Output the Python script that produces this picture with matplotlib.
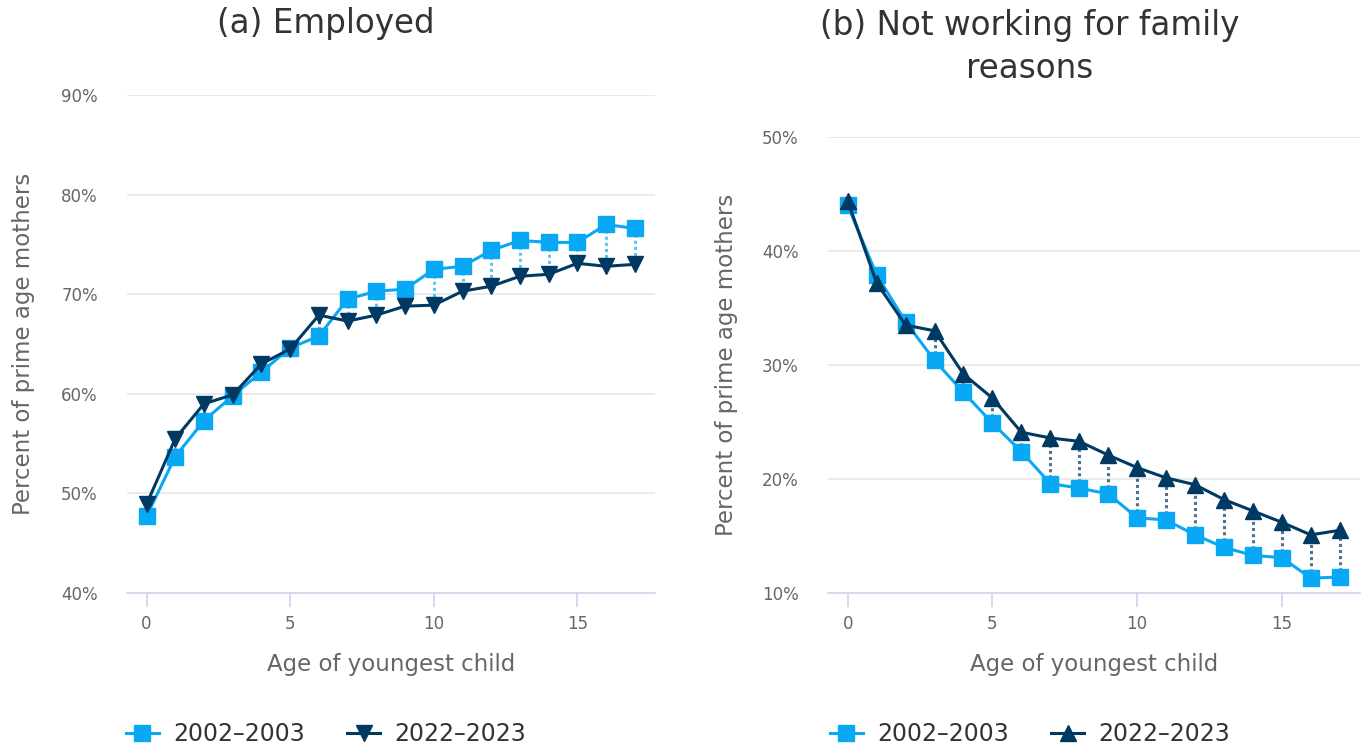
import numpy as np
import matplotlib.pyplot as plt
from matplotlib.ticker import FuncFormatter

plt.rcParams['font.family'] = ['DejaVu Sans']

# age of youngest child
ages = list(range(18))

# (a) employed, percent of prime age mothers
emp_2002 = [47.7, 53.7, 57.3, 59.8, 62.2, 64.6, 65.8, 69.5, 70.3, 70.5,
            72.5, 72.8, 74.4, 75.4, 75.2, 75.2, 77.0, 76.6]
emp_2022 = [48.9, 55.5, 59.0, 59.9, 63.0, 64.5, 67.9, 67.3, 67.9, 68.8,
            68.9, 70.3, 70.8, 71.8, 72.0, 73.1, 72.8, 73.0]

# (b) not working for family reasons
fam_2002 = [44.0, 37.9, 33.8, 30.4, 27.6, 24.9, 22.4, 19.6, 19.2, 18.7,
            16.6, 16.4, 15.1, 14.0, 13.3, 13.1, 11.3, 11.4]
fam_2022 = [44.4, 37.2, 33.5, 33.0, 29.2, 27.1, 24.1, 23.6, 23.3, 22.1,
            21.0, 20.1, 19.5, 18.2, 17.2, 16.2, 15.1, 15.5]

labels = ["2002\u20132003", "2022\u20132023"]

light = "#08a8f5"
dark = "#003a62"
light_dot = "#5cc6f2"
dark_dot = "#4e7191"

W, H = 1364, 748
fig = plt.figure(figsize=(W / 100, H / 100), dpi=100)


def make_ax(x0, x1, y_top, y_bot):
    return fig.add_axes([x0 / W, 1 - y_bot / H, (x1 - x0) / W, (y_bot - y_top) / H])


def style(ax, ylo, yhi, ylab_x):
    ax.set_xlim(-0.68, 17.7)
    ax.set_ylim(ylo, yhi)
    ax.set_xticks([0, 5, 10, 15])
    ax.set_yticks(np.arange(ylo, yhi + 1, 10))
    ax.yaxis.set_major_formatter(FuncFormatter(lambda v, p: "%d%%" % v))
    for s in ["top", "right", "left"]:
        ax.spines[s].set_visible(False)
    ax.spines["bottom"].set_color("#ccd6eb")
    ax.spines["bottom"].set_linewidth(1.2)
    ax.grid(axis="y", color="#e6e6e6", linewidth=1.2)
    ax.set_axisbelow(True)
    ax.tick_params(axis="x", colors="#666666", labelsize=12, length=10,
                   width=1.2, color="#ccd6eb", pad=6)
    ax.tick_params(axis="y", colors="#666666", labelsize=12, length=0, pad=21)
    ax.set_xlabel("Age of youngest child", fontsize=16.5, color="#666666", labelpad=14)
    ax.set_ylabel("Percent of prime age mothers", fontsize=16.5, color="#666666")
    ax.yaxis.set_label_coords(ylab_x, 0.5)


def draw(ax, a, b, marker_b, cx):
    for x, y1, y2 in zip(ages, a, b):
        col = light_dot if y1 > y2 else dark_dot
        ax.plot([x, x], [y1, y2], color=col, linewidth=2.2, linestyle=(0, (1, 1)), zorder=2)
    l1, = ax.plot(ages, a, color=light, linewidth=2.2, marker="s", markersize=12,
                  label=labels[0], zorder=3)
    l2, = ax.plot(ages, b, color=dark, linewidth=2.2, marker=marker_b, markersize=11,
                  label=labels[1], zorder=4)
    leg = fig.legend(handles=[l1, l2], loc="center", bbox_to_anchor=(cx / W, 1 - 734 / H),
                     ncol=2, frameon=False, fontsize=17, handlelength=1.4,
                     columnspacing=1.8, handletextpad=0.6)
    for t in leg.get_texts():
        t.set_color("#333333")


ax1 = make_ax(127, 655, 95, 593)
style(ax1, 40, 90, -0.175)
draw(ax1, emp_2002, emp_2022, "v", 326)
fig.text(326 / W, 1 - 23 / H, "(a) Employed", fontsize=23.5, color="#333333",
         ha="center", va="center")

ax2 = make_ax(828, 1360, 137, 593)
style(ax2, 10, 50, -0.17)
draw(ax2, fam_2002, fam_2022, "^", 1030)
fig.text(1030 / W, 1 - 47 / H, "(b) Not working for family\nreasons", fontsize=23.5,
         color="#333333", ha="center", va="center", linespacing=1.35)

fig.savefig("out.png", dpi=100)
